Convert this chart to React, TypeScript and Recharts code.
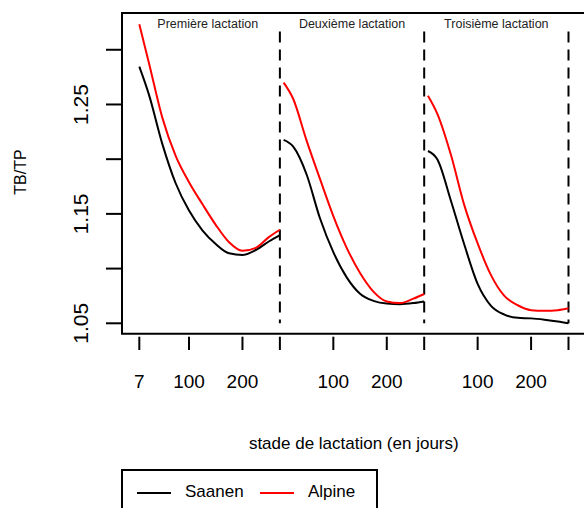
import React from 'react';
import { LineChart, Line, XAxis, YAxis, ReferenceLine, ReferenceArea, ReferenceDot, Label } from 'recharts';

// days in lactation where the curves were read
const days = [7, 25, 50, 75, 100, 125, 150, 175, 200, 225, 250, 270];
const lactationLength = 270;
const lactationNames = ['Première lactation', 'Deuxième lactation', 'Troisième lactation'];

// TB/TP ratio, Saanen
const saanen1 = [1.2846, 1.259, 1.214, 1.178, 1.153, 1.135, 1.1225, 1.114, 1.1125, 1.117, 1.125, 1.1307];
const saanen2 = [1.2176, 1.2114, 1.186, 1.146, 1.115, 1.092, 1.077, 1.0705, 1.068, 1.0675, 1.0685, 1.07];
const saanen3 = [1.2075, 1.1995, 1.162, 1.122, 1.086, 1.066, 1.058, 1.055, 1.0545, 1.0533, 1.0517, 1.05];

// TB/TP ratio, Alpine
const alpine1 = [1.3234, 1.288, 1.238, 1.203, 1.179, 1.159, 1.14, 1.124, 1.1162, 1.119, 1.129, 1.1355];
const alpine2 = [1.27, 1.255, 1.217, 1.182, 1.148, 1.119, 1.096, 1.079, 1.07, 1.0685, 1.0725, 1.0768];
const alpine3 = [1.258, 1.241, 1.204, 1.158, 1.123, 1.094, 1.075, 1.0665, 1.062, 1.0615, 1.062, 1.0637];

const saanen = [saanen1, saanen2, saanen3];
const alpine = [alpine1, alpine2, alpine3];

const xTicks = [7, 100, 200, 270, 370, 470, 540, 640, 740, 810];
const xTickLabels = ['7', '100', '200', '', '100', '200', '', '100', '200', ''];
const yTicks = [1.05, 1.1, 1.15, 1.2, 1.25, 1.3];
const yTickLabels = ['1.05', '', '1.15', '', '1.25', ''];

const data: any[] = [];
lactationNames.forEach((_, k) => {
  days.forEach((d, i) => {
    data.push({ x: k * lactationLength + d, saanen: saanen[k][i], alpine: alpine[k][i] });
  });
  if (k < lactationNames.length - 1) {
    data.push({ x: k * lactationLength + lactationLength + 2, saanen: null, alpine: null });
  }
});

const FONT = '"Liberation Sans", Arial, Helvetica, sans-serif';

const YTick = ({ x, y, payload }: any) => {
  const label = yTickLabels[yTicks.indexOf(payload.value)];
  if (!label) return null;
  return (
    <text
      x={x}
      y={y}
      transform={`rotate(-90, ${x}, ${y})`}
      textAnchor="middle"
      dominantBaseline="central"
      fontSize={21}
      fontFamily={FONT}
      fill="#000"
    >
      {label}
    </text>
  );
};

export default function App() {
  return (
    <div style={{ position: 'absolute', left: 0, top: 0, width: 584, height: 508, overflow: 'hidden', background: '#fff' }}>
      <LineChart
        width={600}
        height={520}
        data={data}
        margin={{ top: 13, right: 14.4, bottom: 63.3, left: 0 }}
        style={{ fontFamily: FONT }}
      >
        <XAxis
          dataKey="x"
          type="number"
          domain={[-25.4, 842]}
          allowDataOverflow
          ticks={xTicks}
          interval={0}
          tickFormatter={(v: number) => xTickLabels[xTicks.indexOf(v)]}
          axisLine={false}
          tickLine={{ stroke: '#000', strokeWidth: 2 }}
          tickSize={13.3}
          tickMargin={25}
          tick={{ fontSize: 19, fill: '#000', fontFamily: FONT }}
          height={120}
        >
          <Label
            value="stade de lactation (en jours)"
            position="insideBottom"
            offset={8}
            style={{ fontSize: 17, fill: '#000', fontFamily: FONT }}
          />
        </XAxis>
        <YAxis
          type="number"
          domain={[1.03775, 1.3336]}
          allowDataOverflow
          ticks={yTicks}
          interval={0}
          axisLine={false}
          tickLine={{ stroke: '#000', strokeWidth: 2 }}
          tickSize={16}
          tickMargin={25}
          tick={<YTick />}
          width={122}
          label={{
            value: 'TB/TP',
            content: () => (
              <text
                x={20}
                y={172}
                transform="rotate(-90, 20, 172)"
                textAnchor="middle"
                dominantBaseline="central"
                fontSize={16}
                fontFamily={FONT}
                fill="#000"
              >
                TB/TP
              </text>
            ),
          }}
        />
        <ReferenceArea
          x1={-25.4}
          x2={842}
          y1={1.0405}
          y2={1.3336}
          fill="none"
          stroke="#000"
          strokeWidth={2}
          ifOverflow="visible"
        />
        {[1, 2, 3].map((k) => (
          <ReferenceLine
            key={k}
            segment={[
              { x: k * lactationLength, y: 1.3166 },
              { x: k * lactationLength, y: 1.05 },
            ]}
            stroke="#000"
            strokeWidth={2}
            strokeDasharray="11 7"
            ifOverflow="visible"
          />
        ))}
        {lactationNames.map((name, k) => (
          <ReferenceDot
            key={name}
            x={k * lactationLength + lactationLength / 2}
            y={1.3236}
            r={0}
            fill="none"
            stroke="none"
            ifOverflow="visible"
            label={{ value: name, position: 'center', fontSize: 12.5, fill: '#222', fontFamily: FONT }}
          />
        ))}
        <Line
          type="monotone"
          dataKey="saanen"
          stroke="#000"
          strokeWidth={2}
          dot={false}
          connectNulls={false}
          isAnimationActive={false}
        />
        <Line
          type="monotone"
          dataKey="alpine"
          stroke="#ff0000"
          strokeWidth={2}
          dot={false}
          connectNulls={false}
          isAnimationActive={false}
        />
      </LineChart>
      <div
        style={{
          position: 'absolute',
          left: 121,
          top: 469,
          width: 257,
          height: 60,
          border: '2px solid #000',
          boxSizing: 'border-box',
          fontFamily: FONT,
          fontSize: 17,
          color: '#000',
        }}
      >
        <div style={{ position: 'absolute', left: 14, top: 21, width: 34, height: 2, background: '#000' }} />
        <span style={{ position: 'absolute', left: 62, top: 11, lineHeight: '20px' }}>Saanen</span>
        <div style={{ position: 'absolute', left: 137, top: 21, width: 34, height: 2, background: '#ff0000' }} />
        <span style={{ position: 'absolute', left: 185, top: 11, lineHeight: '20px' }}>Alpine</span>
      </div>
    </div>
  );
}
